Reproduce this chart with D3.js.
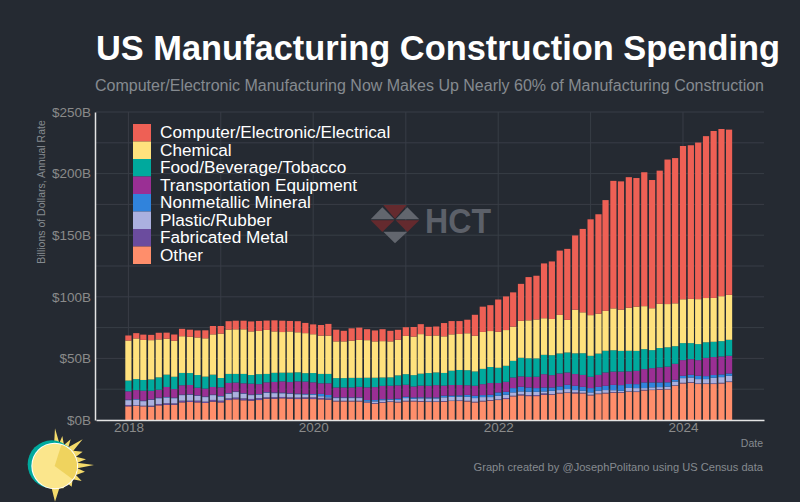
<!DOCTYPE html>
<html>
<head>
<meta charset="utf-8">
<script src="https://cdn.jsdelivr.net/npm/d3@7"></script>
<style>
html, body { margin: 0; padding: 0; background: #252A32; }
svg { display: block; font-family: "Liberation Sans", Arial, sans-serif; }
</style>
</head>
<body>
<div id="content"></div>
<script>
// billions of dollars, annual rate, Jan 2018 to Jul 2024
var computer = [4.1,4.3,4.3,4.3,5.4,4.9,5.1,6,5.7,5.7,6.5,6.8,6.2,6.8,7,7,8.1,8.1,7.6,9,9.2,8.5,9,8.3,8,
	8.6,9.5,9.5,8.6,10,10,8.9,8.9,9.7,8.6,8.1,7,7.8,8.1,7.3,7.3,10.8,10.8,10.5,11,17,20.5,21,26.2,27.3,27.8,30,
	35.1,35.5,44.5,46.7,52.2,57.6,60.3,67.7,77.8,80.7,89.9,103.5,104.1,106,104.4,108.7,104.1,108.1,117.3,117.9,124.4,124.7,127.1,131.4,135.5,135.7,134.1];
var chemical = [32.5,33,32.5,31.9,30.8,29.2,29.2,29.8,29.5,30.5,31.1,32.7,36,36,36.2,36.2,35.4,35.1,35.7,33.6,33,33.5,32.5,32.5,31.5,
	31.1,31.1,29.8,29.8,30.2,30.8,30.5,29.5,29.5,29.2,28.9,31.1,31.3,32.1,30.2,30,29.7,29.5,29.2,30,29,30,29.2,29.2,29,27.8,30,
	30.8,31.6,29.7,29.4,31.3,26.5,35.4,33.2,33,32.4,32.4,34,33.5,34.9,35.9,34.9,34,35.9,35.1,34.8,35.6,35.9,36.5,35.9,35.6,36.5,36.5];
var food = [8.7,8.9,8.7,9.2,10,10,10,10,9.7,10.3,9.7,10,7.6,7.3,7,7.6,7,8.1,6.8,7.4,7,7.6,7.3,6.8,7.5,
	7.6,7.6,7.6,7.6,7.8,7.3,7.8,7.6,6.8,6.8,8.1,8.6,9.2,9.7,10.3,10.3,10.3,11.6,12.2,12.2,11.6,12.4,13,12.4,13,13.5,15.1,
	15.1,14.9,15.7,16.2,16.2,16.2,16.8,17.6,17,17.3,17.6,17.3,16.8,16.7,16.2,16.2,14.6,15.7,15.7,14.3,13.8,13,13,12.7,12.4,12.4,13];
var transportation = [6.8,7.3,8.1,7,6.5,8.1,7,7.6,7.6,6.2,6.5,6.2,7,8.4,7.3,8.1,8.9,8.1,8.1,8.6,9.2,9.2,10,10,9.5,
	8.6,9.5,8.1,8.1,8.1,8.6,10.3,10.5,10.8,10.8,10.8,9.7,8.9,9.5,9.5,10,8.1,8.6,8.4,7.8,8.1,8.9,9.5,7.6,8.1,8.6,8.4,
	8.6,9.2,10.8,10,10.5,10,9.5,9.7,9.2,9.7,10.8,10.8,11,10.3,10.8,10.8,11.6,12.2,12.7,13,12.7,12.7,12.7,14.8,14.6,14.6,14.3];
var nonmetallic = [0.4,0.4,0.4,0.4,0.4,0.4,0.4,0.4,0.4,0.4,0.4,0.4,0.4,0.4,0.4,0.4,0.4,0.4,0.5,0.5,0.5,0.5,0.5,0.5,0.6,
	1.9,1.9,0.5,0.5,0.5,0.5,1.1,1.1,0.8,0.5,1.1,1.1,1.1,0.8,0.8,0.8,1.4,1.1,1.1,1.6,1.9,1.6,1.9,2.7,2.4,3.5,3.8,
	3.5,3,3.2,2.7,3,3.5,3.5,3.2,3.5,3.2,3.5,4.3,4.6,3.2,3.2,4.6,4,3.8,3.5,1.4,1.9,2.2,2.7,2.4,2.2,2.2,1.9];
var plastic = [3.9,4.7,3.7,4.7,4.7,4.7,4.2,4.5,4.7,3.9,3.7,3.9,3.4,3.7,4.5,3.7,3.1,2.8,3.6,3.3,3,2.7,2.7,2.3,2.1,
	1.4,0.8,2.2,2.2,2.2,2.2,0.8,1.4,1.6,1.4,1.4,2.2,1.6,2.2,2.4,2.4,3,3,3,3.2,3,3,2.4,3,2.7,2.7,2.4,
	2.7,2.7,1.6,2.7,2.2,2.7,1.9,1.6,1.9,2.2,2.2,1.6,1.1,2.7,2.7,1.4,1.9,1.6,1.9,3,3.8,3.8,3.5,3.5,4.6,4.6,4.6];
var fabricated = [1.1,0.5,0.5,0.8,1.1,1.4,1.1,1.4,1.1,1.4,1.1,1.4,1.4,1.4,1.4,1.6,1.4,1.6,1.1,1.2,1.1,1.1,1.2,1.1,1.4,
	1.1,1.1,0.5,0.5,0.5,0.5,0.5,0.5,0.5,0.5,0.5,0.5,0.5,0.5,0.5,0.5,0.5,0.3,0.5,0.5,0.5,0.5,0.5,0.5,0.8,0.5,0.8,
	0.8,0.8,1.1,0.5,0.5,0.5,0.8,0.5,0.5,0.5,0.5,0.5,0.5,0.3,0.5,0.5,0.3,0.5,0.3,0.4,0.5,0.5,0.5,0.5,0.5,0.5,0.5];
var other = [11.1,11.4,11.1,10.8,11.9,12.2,12.4,14.3,14.6,14.3,13.8,14.9,14.3,16.2,16.8,16,15.7,16.2,17.3,17.3,17.6,17.3,17,17.3,17,
	16.8,16.5,15.1,15.1,15.1,15.1,13.8,13.2,14,14.6,14.3,15.1,15.1,14.9,14.6,14.6,14.9,15.4,15.4,15.1,14.3,15.1,15.7,16.2,17,19.2,20,
	19.4,19.4,20.5,20.5,21.6,21.9,21.6,21.6,20,21,21.6,22.1,22.1,23,22.7,24,24.3,24.6,24.9,27.8,29.7,30.2,29.2,29.2,29.2,29.7,30.8];

var seriesNames = ["Computer/Electronic/Electrical", "Chemical", "Food/Beverage/Tobacco", "Transportation Equipment",
	"Nonmetallic Mineral", "Plastic/Rubber", "Fabricated Metal", "Other"];
var seriesValues = [computer, chemical, food, transportation, nonmetallic, plastic, fabricated, other];
var seriesColors = ["#EE6055", "#FFE27D", "#00A99D", "#9A2F94", "#3083DC", "#ABB0DF", "#6B4C9E", "#FF8E6B"];
var yTicks = [0, 50, 100, 150, 200, 250];

var width = 800, height = 502;
var months = d3.timeMonth.range(new Date(2018, 0, 1), new Date(2024, 7, 1));

// one row per month, keyed by series name, for d3.stack
var table = months.map(function(m, i){
	var row = { date: m };
	seriesNames.forEach(function(name, s){ row[name] = seriesValues[s][i]; });
	return row;
});

var svg = d3.select("#content").append("svg")
	.attr("width", width)
	.attr("height", height)
	.style("background", "#252A32");

var x = d3.scaleTime()
	.domain([new Date(2017, 7, 26), new Date(2024, 10, 16)])
	.range([96, 764]);
var y = d3.scaleLinear().domain([0, 250]).range([420, 112]);
var color = d3.scaleOrdinal().domain(seriesNames).range(seriesColors);

//gridlines
var gridY = d3.range(0, 251, 25);
svg.append("g").selectAll("line").data(gridY).enter().append("line")
	.attr("x1", 96).attr("x2", 764)
	.attr("y1", function(d){ return y(d); })
	.attr("y2", function(d){ return y(d); })
	.attr("stroke", "#383D46").attr("stroke-width", 1);
svg.append("g").selectAll("line").data(d3.timeYear.range(new Date(2018, 0, 1), new Date(2025, 0, 1))).enter().append("line")
	.attr("x1", function(d){ return x(d); })
	.attr("x2", function(d){ return x(d); })
	.attr("y1", 112).attr("y2", 420)
	.attr("stroke", "#383D46").attr("stroke-width", 1);

//watermark
var wm = svg.append("g").attr("transform", "translate(350,190) scale(0.3333)");
var wmTri = [
	["#62666E", "M97 52 L62 88 L133 88 Z"], ["#642A2E", "M100 45 L170 45 L135 86 Z"], ["#62666E", "M172 52 L137 88 L208 88 Z"],
	["#642A2E", "M62 91 L133 91 L97 126 Z"], ["#642A2E", "M137 91 L208 91 L172 126 Z"], ["#62666E", "M100 125 L172 125 L135 160 Z"]
];
wm.selectAll("path").data(wmTri).enter().append("path")
	.attr("d", function(d){ return d[1]; })
	.attr("fill", function(d){ return d[0]; });
svg.append("text").attr("x", 425).attr("y", 233)
	.attr("font-size", 35).attr("font-weight", "bold").attr("fill", "#5C6069")
	.attr("textLength", 66).attr("lengthAdjust", "spacingAndGlyphs")
	.text("HCT");

//stacked bars, other at the bottom
var stack = d3.stack().keys(seriesNames.slice().reverse());
var layers = svg.append("g").selectAll("g").data(stack(table)).enter().append("g")
	.attr("fill", function(d){ return color(d.key); });
layers.selectAll("rect").data(function(d){ return d; }).enter().append("rect")
	.attr("x", function(d){ return x(d.data.date) - 3.1; })
	.attr("width", 6.2)
	.attr("y", function(d){ return y(d[1]); })
	.attr("height", function(d){ return y(d[0]) - y(d[1]); });

//axes
var yAxis = d3.axisLeft(y).tickValues(yTicks).tickSize(0).tickPadding(4)
	.tickFormat(function(d){ return "$" + d + "B"; });
var gy = svg.append("g").attr("transform", "translate(95,0)").call(yAxis);
gy.select(".domain").attr("stroke", "#E4E4E4").attr("stroke-width", 1.5);
gy.selectAll("text").attr("fill", "#8A8A8A").attr("font-size", 13.5).attr("font-family", "Liberation Sans");

var xAxis = d3.axisBottom(x).ticks(d3.timeYear.every(2)).tickSize(0).tickPadding(2)
	.tickFormat(d3.timeFormat("%Y"));
var gx = svg.append("g").attr("transform", "translate(0,420)").call(xAxis);
gx.select(".domain").attr("stroke", "#E4E4E4").attr("stroke-width", 1.5);
gx.selectAll("text").attr("fill", "#8A8A8A").attr("font-size", 13.5).attr("font-family", "Liberation Sans");

//titles
svg.append("text").attr("x", 96).attr("y", 60)
	.attr("font-size", 35).attr("font-weight", "bold").attr("fill", "#FFFFFF")
	.attr("textLength", 684).attr("lengthAdjust", "spacingAndGlyphs")
	.text("US Manufacturing Construction Spending");
svg.append("text").attr("x", 95).attr("y", 91)
	.attr("font-size", 16).attr("fill", "#858A90")
	.attr("textLength", 669).attr("lengthAdjust", "spacingAndGlyphs")
	.text("Computer/Electronic Manufacturing Now Makes Up Nearly 60% of Manufacturing Construction");
svg.append("text").attr("transform", "translate(45,192) rotate(-90)")
	.attr("text-anchor", "middle").attr("font-size", 10.5).attr("fill", "#858A90")
	.text("Billions of Dollars, Annual Rate");
svg.append("text").attr("x", 763).attr("y", 447).attr("text-anchor", "end")
	.attr("font-size", 10.5).attr("fill", "#858A90").text("Date");
svg.append("text").attr("x", 763).attr("y", 471).attr("text-anchor", "end")
	.attr("font-size", 11.1).attr("fill", "#858A90")
	.text("Graph created by @JosephPolitano using US Census data");

//legend
var legend = svg.append("g").selectAll("g").data(seriesNames).enter().append("g")
	.attr("transform", function(d, i){ return "translate(133," + (124 + i * 17.5) + ")"; });
legend.append("rect").attr("width", 18).attr("height", 17.5)
	.attr("fill", function(d){ return color(d); });
legend.append("text").attr("x", 27).attr("y", 14)
	.attr("font-size", 17.2).attr("fill", "#FFFFFF")
	.text(function(d){ return d; });

//sun logo
var sun = svg.append("g").attr("transform", "translate(0,420) scale(0.3333)");
sun.append("path")
	.attr("d", "M165 25 L178 70 L187 48 L192 75 L212 58 L205 82 L248 58 L220 92 L248 95 L228 110 L258 118 L232 128 L282 135 L232 145 L255 155 L228 165 L245 183 L218 178 L215 200 L200 188 L190 205 L178 205 L165 245 L155 205 Z")
	.attr("fill", "#F4DA6B");
sun.append("circle").attr("cx", 155).attr("cy", 133).attr("r", 72).attr("fill", "#00A99D");
sun.append("circle").attr("cx", 164).attr("cy", 138).attr("r", 70).attr("fill", "#FFFFFF");
sun.append("circle").attr("cx", 164).attr("cy", 138).attr("r", 67).attr("fill", "#FBE68C");
sun.append("path")
	.attr("d", "M164 138 L184 75 A66 66 0 0 1 218 178 Z")
	.attr("fill", "#EFD35E");
</script>
</body>
</html>
